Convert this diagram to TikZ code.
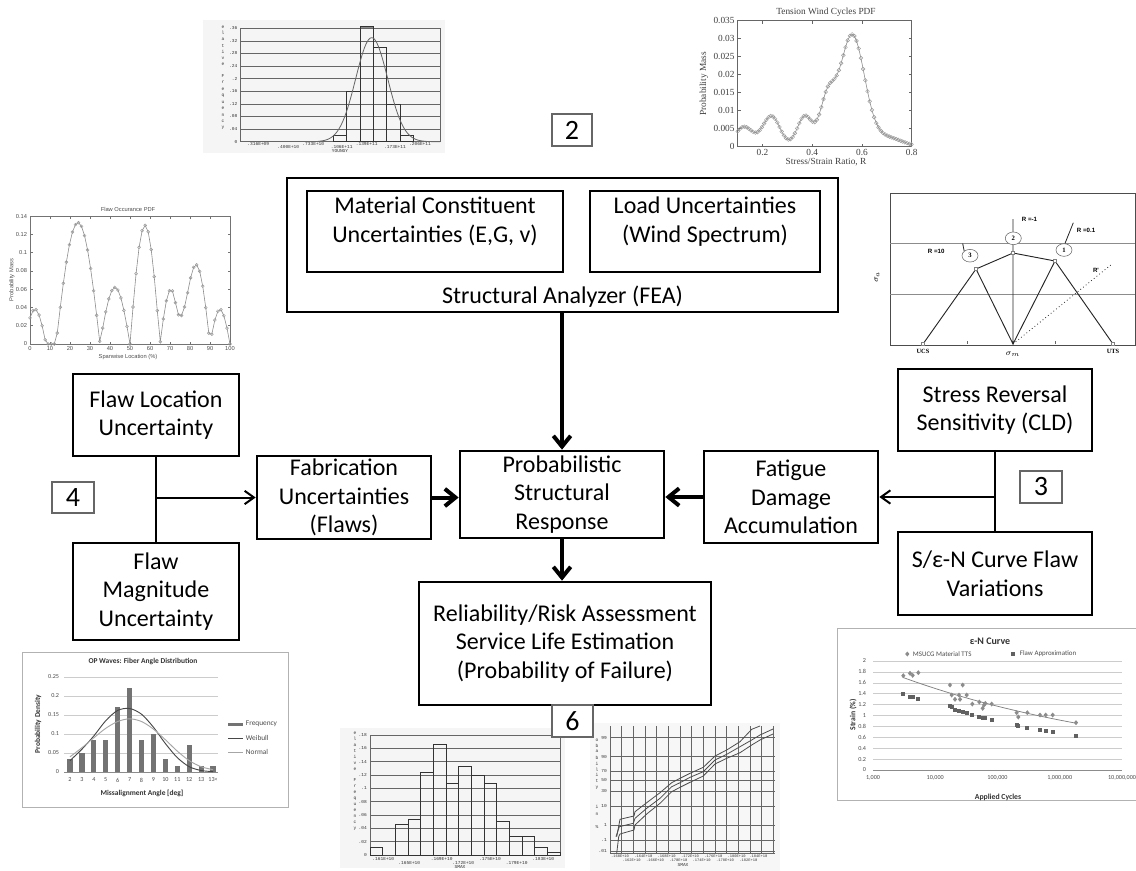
\documentclass[tikz,border=0pt]{standalone}
\usepackage{fontspec}
\setmainfont{Carlito}
\newfontfamily\serifplot{Liberation Serif}
\newfontfamily\sansplot{Liberation Sans}
\newfontfamily\monoplot{Liberation Mono}
\usetikzlibrary{arrows.meta,plotmarks,shapes.geometric}
\begin{document}
\begin{tikzpicture}[x=0.75pt,y=-0.75pt,
  box/.style={draw, line width=2pt, align=center, inner sep=0pt, font=\fontsize{18}{21.5}\selectfont},
  boxtext/.style={align=center, inner sep=0pt, font=\fontsize{18}{21.5}\selectfont},
  numbox/.style={draw=black!60, line width=2.2pt, fill=white, inner sep=0pt, font=\fontsize{21}{21}\selectfont},
  conn/.style={line width=1.5pt},
  thinarrow/.style={line width=1.5pt, -{Straight Barb[length=7pt,width=10pt]}},
  thickarrow/.style={line width=3pt, -{Straight Barb[length=8pt,width=13pt]}},
  mono/.style={font=\monoplot\fontsize{3.4}{4}\selectfont, inner sep=0pt, text=black!80},
  ser/.style={font=\serifplot\fontsize{7}{8}\selectfont, inner sep=0.5pt, text=black!75},
  sanst/.style={font=\sansplot\fontsize{4.3}{5}\selectfont, inner sep=0.5pt, text=black!70},
  calt/.style={font=\fontsize{4.6}{5}\selectfont, inner sep=0.5pt, text=black!70},
  calb/.style={font=\bfseries\fontsize{5.6}{6}\selectfont, inner sep=0.5pt, text=black!80},
  cld/.style={font=\sansplot\bfseries\fontsize{4.6}{5}\selectfont, inner sep=0.5pt},
  cldser/.style={font=\serifplot\bfseries\fontsize{4.8}{5}\selectfont, inner sep=0.5pt},
  gridln/.style={black!60, line width=0.5pt},
  barline/.style={black!80, line width=0.6pt},
  declare function={
    flaw(\x) = (\x<8) ? 0.038*cos(90*(\x-2.5)/5.5) : ((\x<13) ? 0 : ((\x<35) ? 0.133*sin(180*(\x-13)/22) : ((\x<50) ? 0.062*sin(180*(\x-35)/15) : ((\x<65) ? 0.13*sin(180*(\x-50)/15) : ((\x<70.5) ? 0.06*sin(90*(\x-65)/5.5) : ((\x<75) ? 0.045+0.015*cos(180*(\x-70.5)/4.5) : ((\x<83) ? 0.0585-0.0285*cos(180*(\x-75)/8) : ((\x<90) ? 0.087*cos(90*(\x-83)/7) : 0.038*sin(180*(\x-90)/10)))))))));
    gs(\gx,\gm,\gw) = exp(max(-9,-0.5*((\gx-\gm)/\gw)*((\gx-\gm)/\gw)));
    tw(\x) = 5.5*gs(\x,0.125,0.035)+8.5*gs(\x,0.235,0.035)+8.5*gs(\x,0.37,0.03)+12*gs(\x,0.46,0.03)+31*gs(\x,0.56,0.05)+2.5*gs(\x,0.70,0.06);
  }
]
\useasboundingbox (0,0) rectangle (1136,871);
\clip (0,0) rectangle (1136,871);

% ================= Young's modulus histogram (top) =================
\fill[black!4] (203,20) rectangle (445,153);
\foreach \v/\lbl [count=\i] in {0/0,0.04/.04,0.08/.08,0.12/.12,0.16/.16,0.2/.2,0.24/.24,0.28/.28,0.32/.32,0.36/.36}{
  \draw[gridln] (240,{141.7-315*\v}) -- (440,{141.7-315*\v});
  \node[mono, anchor=east] (yy\i) at (237.5,{141.7-315*\v}) {\lbl};
}
\draw[gridln] (240,28.3) -- (240,141.7) (440,28.3) -- (440,141.7);
\foreach \px/\v in {333.3/0.02,346.7/0.16,373.3/0.30,386.7/0.12,400/0.02}
  \draw[barline] (\px,141.7) rectangle ({\px+13.3},{141.7-315*\v});
\fill[black!45] (360,26.3) rectangle (373.3,28.3);
\draw[barline] (360,141.7) rectangle (373.3,26.3);
\draw[black!60, line width=0.6pt] plot[domain=318:440, samples=90, smooth] (\x,{141.7-104*gs(\x,371.7,16)});
\foreach \c [count=\i] in {e,l,a,t,i,v,e}
  \node[mono] (ya\i) at (223,{27+6.2*(\i-1)}) {\c};
\foreach \c [count=\i] in {F,r,e,q,u,e,n,c,y}
  \node[mono] (yb\i) at (223,{76+6.5*(\i-1)}) {\c};
\node[mono] (yx1) at (258.3,144.5) {.316E+09};
\node[mono] (yx2) at (288.3,147.3) {.400E+10};
\node[mono] (yx3) at (313.3,144.5) {.733E+10};
\node[mono] (yx4) at (341.7,147.3) {.106E+11};
\node[mono] (yx5) at (366.7,144.5) {.139E+11};
\node[mono] (yx6) at (395,147.3) {.173E+11};
\node[mono] (yx7) at (420,144.5) {.206E+11};
\node[mono] (yxl) at (340,151) {YOUNGY};

% ================= Tension wind cycles PDF =================
\draw[black!60, line width=0.5pt] (737.7,20.7) rectangle (911.7,146.7);
\foreach \v/\lbl [count=\i] in {0/0,0.005/0.005,0.01/0.01,0.015/0.015,0.02/0.02,0.025/0.025,0.03/0.03,0.035/0.035}{
  \draw[black!60, line width=0.4pt] (737.7,{146.7-3600*\v}) -- ++(3,0) (911.7,{146.7-3600*\v}) -- ++(-3,0);
  \node[ser, anchor=east] (twy\i) at (735.5,{146.7-3600*\v}) {\lbl};
}
\foreach \r/\lbl [count=\i] in {0.2/0.2,0.4/0.4,0.6/0.6,0.8/0.8}{
  \draw[black!60, line width=0.4pt] ({737.7+248.6*(\r-0.1)},146.7) -- ++(0,-3) ({737.7+248.6*(\r-0.1)},20.7) -- ++(0,3);
  \node[ser, anchor=north] (twx\i) at ({737.7+248.6*(\r-0.1)},148.5) {\lbl};
}
\node[ser] (twt) at (826,12) {Tension Wind Cycles PDF};
\node[ser] (twxl) at (826,162) {Stress/Strain Ratio, R};
\node[ser, rotate=90] (twyl) at (704,84) {Probability Mass};
\draw[black!45, line width=0.45pt, mark=o, mark size=1.4pt, mark options={black!40, line width=0.35pt}]
  plot[domain=0.1:0.8, samples=80] ({737.7+248.6*(\x-0.1)},{146.7-3.6*tw(\x)});

% ================= Flaw occurance PDF =================
\draw[black!55, line width=0.5pt] (30,216) rectangle (230,344);
\foreach \k in {0,...,10}{
  \draw[black!55, line width=0.4pt] ({30+20*\k},344) -- ++(0,-2.5) ({30+20*\k},216) -- ++(0,2.5);
  \pgfmathtruncatemacro\lab{10*\k}
  \node[sanst, anchor=north] (fx\k) at ({30+20*\k},346) {\lab};
}
\foreach \v/\lbl [count=\i] in {0/0,0.02/0.02,0.04/0.04,0.06/0.06,0.08/0.08,0.1/0.1,0.12/0.12,0.14/0.14}{
  \draw[black!55, line width=0.4pt] (30,{344-913*\v}) -- ++(2.5,0) (230,{344-913*\v}) -- ++(-2.5,0);
  \node[sanst, anchor=east] (fy\i) at (28,{344-913*\v}) {\lbl};
}
\node[sanst] (ftitle) at (128,209) {Flaw Occurance PDF};
\node[sanst, rotate=90] (fyl) at (12,280) {Probability Mass};
\node[sanst] (fxl) at (128,357) {Spanwise Location (\%)};
\draw[black!45, line width=0.45pt, mark=o, mark size=1.1pt, mark options={black!40, line width=0.35pt}]
  plot[domain=0:100, samples=67] ({30+2*\x},{344-913*flaw(\x)});

% ================= Constant life diagram =================
\draw[black!70, line width=0.7pt] (890,193) rectangle (1135,345);
\draw[black!45, line width=0.5pt] (890,243) -- (1135,243) (890,294) -- (1135,294);
\coordinate (cO) at (1013,344);
\coordinate (cUCS) at (923,344);
\coordinate (cUTS) at (1113,344);
\coordinate (cP3) at (976,269);
\coordinate (cP2) at (1013,253);
\coordinate (cP1) at (1055,261);
\coordinate (cRtop) at (1013,219);
\coordinate (cRp) at (1112,264);
\coordinate (cR01) at (1073.3,222.7);
\coordinate (cR10) at (962.7,243.5);
\draw[black!85, line width=0.7pt] (cUCS) -- (cP3) -- (cO) -- (cP1) -- (cUTS) (cP3) -- (cP2) -- (cP1) (cO) -- (cRtop);
\draw[black!85, line width=0.6pt, dotted] (cO) -- (cRp);
\foreach \px in {967,1055}
  \draw[black!60, line width=0.4pt] (\px,344) -- (\px,341);
\node[draw=black!60, fill=white, ellipse, minimum width=12pt, minimum height=9.5pt, inner sep=0pt, font=\serifplot\bfseries\fontsize{5}{5}\selectfont] (e2) at (1013.3,238.3) {2};
\node[draw=black!60, fill=white, ellipse, minimum width=12pt, minimum height=9.5pt, inner sep=0pt, font=\serifplot\bfseries\fontsize{5}{5}\selectfont] (e1) at (1064,250) {1};
\node[draw=black!60, fill=white, ellipse, minimum width=12pt, minimum height=9.5pt, inner sep=0pt, font=\serifplot\bfseries\fontsize{5}{5}\selectfont] (e3) at (970,255.7) {3};
\draw[black!85, line width=0.6pt] (e1.north) ++(1,0) -- (cR01);
\draw[black!85, line width=0.6pt] (e3.north west) -- (cR10);
\foreach \cc in {cP1,cP2,cP3,cUCS,cUTS}
  \fill[white, draw=black!50, line width=0.3pt] (\cc) +(-1.5,-1.5) rectangle +(1.5,1.5);
\node[cld, anchor=west] (lrm1) at (1021,219) {R =-1};
\node[cld, anchor=west] (lr01) at (1076,230.7) {R =0.1};
\node[cld, anchor=west] (lr10) at (927,251.7) {R =10};
\node[cld] (lrp) at (1096,270) {R'};
\node[cldser] (lucs) at (923,351) {UCS};
\node[cldser] (luts) at (1113,351) {UTS};
\node[font=\fontsize{6}{6}\selectfont, inner sep=0pt] (lsm) at (1013,354) {$\sigma_m$};
\node[font=\fontsize{6}{6}\selectfont, inner sep=0pt, rotate=90] (lsa) at (877,277) {$\sigma_a$};

% ================= OP waves chart =================
\draw[black!30, line width=0.7pt, fill=white] (22,652) rectangle (288,807);
\node[calb, font=\bfseries\fontsize{5.6}{6}\selectfont] (opt) at (143,662) {OP Waves: Fiber Angle Distribution};
\foreach \v/\lbl [count=\i] in {0/0,0.05/0.05,0.1/0.1,0.15/0.15,0.2/0.2,0.25/0.25}{
  \draw[black!20, line width=0.4pt] (64,{772-380*\v}) -- (218,{772-380*\v});
  \node[calt, anchor=east] (opy\i) at (60,{772-380*\v}) {\lbl};
}
\draw[black!45, line width=0.5pt] (64,772) -- (218,772);
\foreach \v/\lbl [count=\i] in {0.035/2,0.05/3,0.085/4,0.085/5,0.17/6,0.22/7,0.085/8,0.1/9,0.035/10,0.017/11,0.07/12,0.017/13,0.017/13<}{
  \fill[black!55] ({70+11.92*(\i-1)-2.6},772) rectangle ({70+11.92*(\i-1)+2.6},{772-380*\v});
  \node[calt, anchor=north] (opx\i) at ({70+11.92*(\i-1)},777) {\lbl};
}
\draw[black!72, line width=0.7pt] plot[smooth] coordinates {(70,760.6) (81.92,749.2) (93.84,735.9) (105.76,720.7) (117.68,710.4) (129.6,708.5) (141.52,714.2) (153.44,727.2) (165.36,743.5) (177.28,757.6) (189.2,766.7) (201.12,770.5) (213.04,771.6)};
\draw[black!35, line width=0.7pt] plot[smooth] coordinates {(70,756.8) (81.92,747.7) (93.84,737.8) (105.76,728.3) (117.68,721.5) (129.6,718.8) (141.52,721.5) (153.44,729.1) (165.36,739.7) (177.28,751.1) (189.2,760.6) (201.12,766.7) (213.04,769.7)};
\fill[black!55] (228,722.5) rectangle (243,725.5);
\node[calt, anchor=west, font=\fontsize{5.5}{6}\selectfont] (lgf) at (245,724) {Frequency};
\draw[black!72, line width=0.7pt] (228,738) -- (243,738);
\node[calt, anchor=west, font=\fontsize{5.5}{6}\selectfont] (lgw) at (245,738) {Weibull};
\draw[black!35, line width=0.7pt] (228,752) -- (243,752);
\node[calt, anchor=west, font=\fontsize{5.5}{6}\selectfont] (lgn) at (245,752) {Normal};
\node[calb] (opxl) at (142,793) {Missalignment Angle [deg]};
\node[calb, rotate=90] (opyl) at (38,724) {Probability Density};

% ================= epsilon-N curve =================
\draw[black!30, line width=0.6pt, fill=white] (837,628) rectangle (1140,800);
\node[font=\bfseries\fontsize{7.5}{8}\selectfont, text=black!80, inner sep=0pt] (ent) at (990,641) {ε-N Curve};
\foreach \v/\lbl [count=\i] in {0/0,0.2/0.2,0.4/0.4,0.6/0.6,0.8/0.8,1/1,1.2/1.2,1.4/1.4,1.6/1.6,1.8/1.8,2/2}{
  \draw[black!20, line width=0.4pt] (873,{770-54.5*\v}) -- (1122,{770-54.5*\v});
  \node[calt, anchor=east] (eny\i) at (867,{770-54.5*\v}) {\lbl};
}
\draw[black!45, line width=0.5pt] (873,770) -- (1122,770);
\node[calt] (enx1) at (873,778) {1,000};
\node[calt] (enx2) at (935.25,778) {10,000};
\node[calt] (enx3) at (997.5,778) {100,000};
\node[calt] (enx4) at (1059.75,778) {1,000,000};
\node[calt] (enx5) at (1122,778) {10,000,000};
\node[calb, font=\bfseries\fontsize{5.8}{6}\selectfont] (enxl) at (998,797) {Applied Cycles};
\node[calb, font=\bfseries\fontsize{5.8}{6}\selectfont, rotate=90] (enyl) at (853,715) {Strain (\%)};
\draw[black!50, line width=0.55pt] plot[domain=0.477:3.255, samples=40] ({873+62.25*\x},{770-54.5*1.70*exp(-0.2452*(\x-0.477))});
\foreach \px/\py in {250/167,270/160,278/166,295/158,390/195,395/225,405/238,417/225,420/238,428/195,440/225,457/252,478/246,488/265,492/255,496/250,515/252,590/278,595/291,622/278,660/285,677/285,698/285,768/308}
  \fill[black!45] ({820+\px/3},{620+\py/3}) +(0,-2.5) -- +(2.1,0) -- +(0,2.5) -- +(-2.1,0) -- cycle;
\foreach \px/\py in {250/223,270/230,280/232,295/238,390/258,396/260,405/270,418/273,428/275,440/280,457/285,478/290,488/293,495/295,515/300,590/315,595/318,622/323,660/330,677/333,698/336,768/348}
  \fill[black!62] ({820+\px/3-2},{620+\py/3-2}) rectangle +(4,4);
\fill[black!45] (907.3,654) +(0,-2.5) -- +(2.1,0) -- +(0,2.5) -- +(-2.1,0) -- cycle;
\node[calt, anchor=west, font=\fontsize{5.2}{6}\selectfont] (enl1) at (912,654) {MSUCG Material TTS};
\fill[black!62] (1011.3,652) rectangle +(4,4);
\node[calt, anchor=west, font=\fontsize{5.2}{6}\selectfont] (enl2) at (1019,654) {Flaw Approximation};

% ================= SMAX histogram (bottom) =================
\fill[black!4] (340,728) rectangle (565,868);
\foreach \v/\lbl [count=\i] in {0/0,0.02/.02,0.04/.04,0.06/.06,0.08/.08,0.1/.1,0.12/.12,0.14/.14,0.16/.16,0.18/.18}{
  \draw[gridln] (370,{855-666.7*\v}) -- (560,{855-666.7*\v});
  \node[mono, anchor=east] (hy\i) at (367,{855-666.7*\v}) {\lbl};
}
\draw[gridln] (370,735) -- (370,855) (560,735) -- (560,855);
\foreach \v [count=\i] in {0.012,0,0.046,0.054,0.124,0.166,0.108,0.133,0.12,0.108,0.05,0.028,0.028,0.012,0.004}
  \draw[barline] ({370+12.667*(\i-1)},855) rectangle ({370+12.667*\i},{855-666.7*\v});
\foreach \c [count=\i] in {e,l,a,t,i,v,e}
  \node[mono] (ha\i) at (355,{733.3+6*(\i-1)}) {\c};
\foreach \c [count=\i] in {F,r,e,q,u,e,n,c,y}
  \node[mono] (hb\i) at (355,{780+6.1*(\i-1)}) {\c};
\node[mono] (hx1) at (383.3,858.5) {.161E+10};
\node[mono] (hx2) at (409.3,862.5) {.165E+10};
\node[mono] (hx3) at (441.7,858.5) {.169E+10};
\node[mono] (hx4) at (463.3,862.5) {.172E+10};
\node[mono] (hx5) at (490,858.5) {.175E+10};
\node[mono] (hx6) at (516.7,862.5) {.179E+10};
\node[mono] (hx7) at (543.3,858.5) {.183E+10};
\node[mono] (hxl) at (460,866.5) {SMAX};

% ================= probability plot (bottom) =================
\fill[black!3] (590,723) rectangle (780,871);
\foreach \k in {0,...,14}
  \draw[gridln] ({610+11.67*\k},726) -- ({610+11.67*\k},853.3);
\foreach \yy/\lbl [count=\i] in {737.7/99,756.7/90,771/70,780/50,791/30,806/10,825.3/1,840/.1,851/.01}{
  \draw[gridln] (610,\yy) -- (775,\yy);
  \node[mono, anchor=east] (py\i) at (607,\yy) {\lbl};
}
\draw[gridln] (610,853.3) -- (775,853.3);
\foreach \c/\yy [count=\i] in {o/740,b/746,a/751.7,b/758.3,i/764,l/770,i/775,t/781,y/787.3,i/807.3,n/814,\%/826.7}
  \node[mono] (pa\i) at (597,\yy) {\c};
\draw[black!70, line width=0.6pt] plot coordinates {(616,836.7) (619.3,826.7) (633.3,823.3) (635,818.3) (646.7,808.3) (660,798.3) (671.7,786.7) (680,782.7) (690,777.3) (703.3,771.7) (715,760) (726.7,754.3) (740,746.7) (751.7,740) (760,735) (773,729)};
\draw[black!70, line width=0.6pt] plot coordinates {(616.7,836.7) (620,819.3) (634,816) (635,811.7) (646.7,802.7) (660,792.7) (671.7,782.7) (680,778.3) (690,773.3) (703.3,767.3) (715,756) (726.7,750) (740,741.7) (751.7,729.3) (760,726)};
\draw[black!70, line width=0.6pt] plot coordinates {(616.7,853.3) (618.7,836.7) (620,834) (634,830) (635,825) (646.7,814) (660,803.3) (671.7,791.7) (680,787.3) (690,782.3) (703.3,776) (715,764) (726.7,758.3) (740,752.7) (751.7,745) (760,740) (773,734)};
\node[mono, font=\monoplot\fontsize{2.8}{3}\selectfont] (px1) at (620,856.5) {.160E+10};
\node[mono, font=\monoplot\fontsize{2.8}{3}\selectfont] (px2) at (643.3,856.5) {.164E+10};
\node[mono, font=\monoplot\fontsize{2.8}{3}\selectfont] (px3) at (666.7,856.5) {.168E+10};
\node[mono, font=\monoplot\fontsize{2.8}{3}\selectfont] (px4) at (690,856.5) {.172E+10};
\node[mono, font=\monoplot\fontsize{2.8}{3}\selectfont] (px5) at (713.3,856.5) {.176E+10};
\node[mono, font=\monoplot\fontsize{2.8}{3}\selectfont] (px6) at (736.7,856.5) {.180E+10};
\node[mono, font=\monoplot\fontsize{2.8}{3}\selectfont] (px7) at (758.3,856.5) {.184E+10};
\node[mono, font=\monoplot\fontsize{2.8}{3}\selectfont] (px8) at (631.7,860) {.162E+10};
\node[mono, font=\monoplot\fontsize{2.8}{3}\selectfont] (px9) at (655,860) {.166E+10};
\node[mono, font=\monoplot\fontsize{2.8}{3}\selectfont] (px10) at (678.3,860) {.170E+10};
\node[mono, font=\monoplot\fontsize{2.8}{3}\selectfont] (px11) at (701.7,860) {.174E+10};
\node[mono, font=\monoplot\fontsize{2.8}{3}\selectfont] (px12) at (725,860) {.178E+10};
\node[mono, font=\monoplot\fontsize{2.8}{3}\selectfont] (px13) at (748.3,860) {.182E+10};
\node[mono] (pxl) at (683,864.5) {SMAX};

% ================= main flow boxes =================
\node[box, minimum width=413.25pt, minimum height=100.5pt] (fea) at (562.5,245) {};
\node[boxtext] (fealabel) at (562.5,297) {Structural Analyzer (FEA)};
\node[box, minimum width=192pt, minimum height=60.75pt] (mat) at (435,231.5) {};
\node[boxtext] (mattext) at (435,221.5) {Material Constituent\\Uncertainties (E,G, v)};
\node[box, minimum width=172.5pt, minimum height=60.75pt] (load) at (705,231.5) {};
\node[boxtext] (loadtext) at (705,221.5) {Load Uncertainties\\(Wind Spectrum)};

\node[box, minimum width=124.5pt, minimum height=61.5pt] (floc) at (156,415) {Flaw Location\\Uncertainty};
\node[box, minimum width=124.5pt, minimum height=72.75pt] (fmag) at (156,591.5) {Flaw\\Magnitude\\Uncertainty};
\node[box, minimum width=130.5pt, minimum height=62.25pt] (fab) at (344,497.5) {Fabrication\\Uncertainties\\(Flaws)};
\node[box, minimum width=153pt, minimum height=65.25pt] (prob) at (562,494.5) {Probabilistic\\Structural\\Response};
\node[box, minimum width=130.5pt, minimum height=69pt] (fat) at (791,497) {Fatigue\\Damage\\Accumulation};
\node[box, minimum width=145.5pt, minimum height=61.5pt] (srs) at (995,410) {Stress Reversal\\Sensitivity (CLD)};
\node[box, minimum width=145.5pt, minimum height=62.25pt] (sen) at (995,573.5) {S/ε-N Curve Flaw\\Variations};
\node[box, minimum width=219pt, minimum height=92.25pt] (rel) at (565,643.5) {Reliability/Risk Assessment\\Service Life Estimation\\(Probability of Failure)};

% connectors
\draw[thickarrow] (fea.south -| prob.north) -- (prob.north);
\draw[thickarrow] (prob.south) -- (prob.south |- rel.north);
\draw[thickarrow] (fab.east) -- (fab.east -| prob.west);
\draw[thickarrow] (fat.west) -- (fat.west -| prob.east);
\draw[conn] (floc.south) -- (fmag.north);
\coordinate (jl) at (floc.south |- fab.west);
\draw[thinarrow] (jl) -- (fab.west);
\draw[conn] (srs.south) -- (sen.north);
\coordinate (jr) at (srs.south |- fat.east);
\draw[thinarrow] (jr) -- (fat.east);

% number tags
\node[numbox, minimum width=30pt, minimum height=24pt] (n2) at (572,130) {2};
\node[numbox, minimum width=31.5pt, minimum height=23.25pt] (n4) at (73,497.5) {4};
\node[numbox, minimum width=31.5pt, minimum height=24pt] (n3) at (1041,487) {3};
\node[numbox, minimum width=30.75pt, minimum height=24pt] (n6) at (572.5,721) {6};
\end{tikzpicture}
\end{document}
